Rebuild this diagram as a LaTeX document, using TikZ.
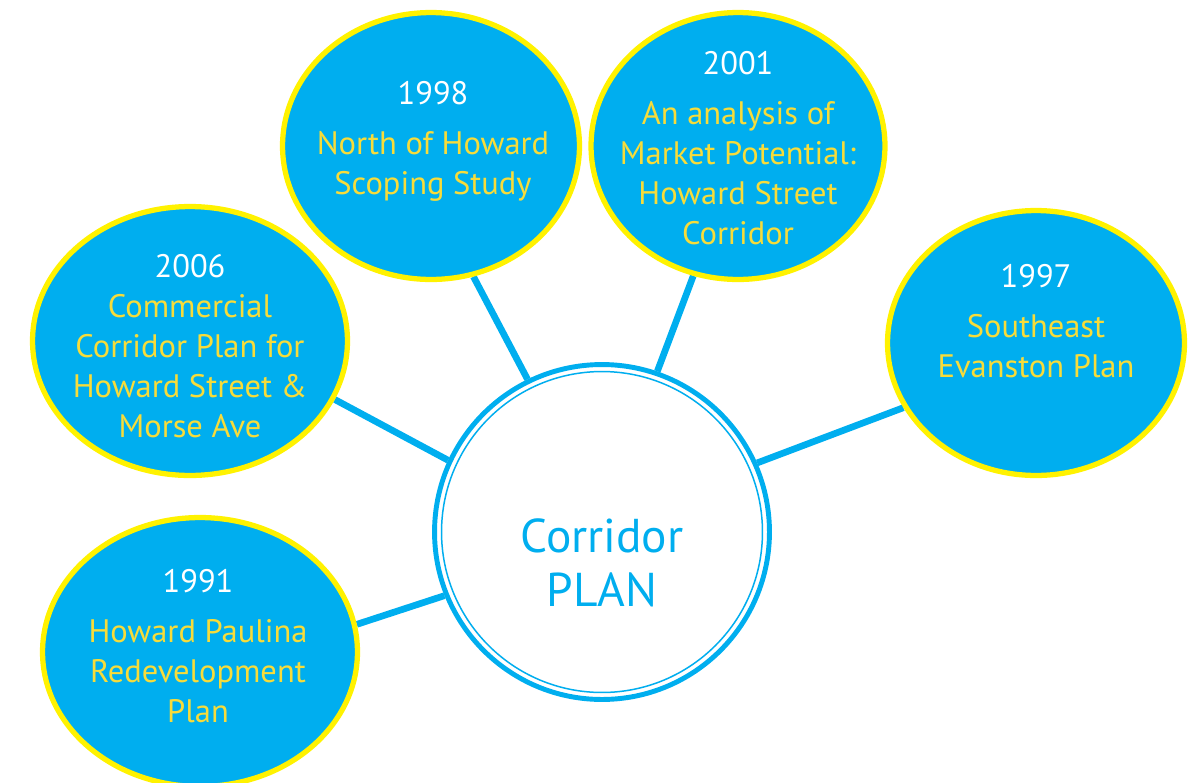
\documentclass[tikz,border=0pt]{standalone}
\usepackage{fontspec}
\setmainfont{PT Sans}
\usetikzlibrary{shapes.geometric}
\definecolor{planblue}{HTML}{00AEEF}
\definecolor{rimyellow}{HTML}{FFF200}
\definecolor{titleyellow}{HTML}{F7DC3A}
\pgfdeclarelayer{background}
\pgfsetlayers{background,main}
\tikzset{
  study/.style={ellipse, fill=planblue, draw=rimyellow, line width=3pt, inner sep=0pt},
  hub/.style={circle, fill=white, draw=planblue, line width=2.8pt, minimum size=6.7cm, inner sep=0pt},
  link/.style={draw=planblue, line width=3.8pt},
  studytext/.style={text=titleyellow, align=center, font=\fontsize{18.5}{22.7}\selectfont},
  hubtext/.style={text=planblue, align=center, font=\fontsize{27}{31}\selectfont}
}
\newcommand{\yr}[1]{\textcolor{white}{#1}}
\begin{document}
\begin{tikzpicture}[x=0.02cm, y=-0.02cm]
  \useasboundingbox (0,0) rectangle (1197,782);

  % central plan
  \node[hub] (hub) at (602,532) {};
  \draw[planblue, line width=0.85pt] (hub.center) circle[radius=3.21cm];
  \node[hubtext] (hubt) at (602,563) {Corridor\\PLAN};

  % surrounding studies
  \node[study, minimum width=5.94cm, minimum height=5.34cm] (s1998) at (431,146) {};
  \node[study, minimum width=5.88cm, minimum height=5.34cm] (s2001) at (738,146) {};
  \node[study, minimum width=6.30cm, minimum height=5.38cm] (s2006) at (190,341) {};
  \node[study, minimum width=5.94cm, minimum height=5.30cm] (s1997) at (1036,343) {};
  \node[study, minimum width=6.30cm, minimum height=5.38cm] (s1991) at (200,652) {};

  \node[studytext] (t1998) at (433,141) {\yr{1998}\\[5.7pt]North of Howard\\Scoping Study};
  \node[studytext] (t2001) at (738,148) {\yr{2001}\\[5.7pt]An analysis of\\Market Potential:\\Howard Street\\Corridor};
  \node[studytext] (t2006) at (190,346) {\yr{2006}\\Commercial\\Corridor Plan for\\Howard Street \&\\Morse Ave};
  \node[studytext] (t1997) at (1036,321) {\yr{1997}\\[5.7pt]Southeast\\Evanston Plan};
  \node[studytext] (t1991) at (198,646) {\yr{1991}\\[5.7pt]Howard Paulina\\Redevelopment\\Plan};

  % connectors
  \begin{pgfonlayer}{background}
    \draw[link] (s1998.-72.6) -- (hub.116.3);
    \draw[link] (s2001.-109.7) -- (hub.71.2);
    \draw[link] (s2006.-22.4) -- (hub.155.3);
    \draw[link] (s1997.206) -- (hub.24.8);
    \draw[link] (s1991.10.8) -- (hub.202.2);
  \end{pgfonlayer}
\end{tikzpicture}
\end{document}
